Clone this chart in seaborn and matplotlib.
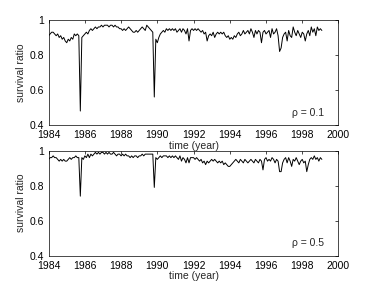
import matplotlib
matplotlib.use("Agg")
import matplotlib.pyplot as plt
import seaborn as sns
import numpy as np
import pandas as pd

# monthly survival ratio, one row per year (1984 .. 1998), then Jan/Feb 1999
ratio_rho01 = [
    0.91, 0.92, 0.93, 0.93, 0.92, 0.91, 0.92, 0.90, 0.91, 0.89, 0.90, 0.88,
    0.87, 0.89, 0.88, 0.90, 0.89, 0.92, 0.91, 0.92, 0.91, 0.48, 0.90, 0.91,
    0.92, 0.93, 0.92, 0.94, 0.95, 0.94, 0.95, 0.96, 0.95, 0.96, 0.96, 0.97,
    0.96, 0.97, 0.97, 0.97, 0.96, 0.97, 0.97, 0.96, 0.97, 0.96, 0.96, 0.95,
    0.95, 0.94, 0.95, 0.94, 0.95, 0.96, 0.95, 0.94, 0.93, 0.93, 0.94, 0.93,
    0.94, 0.95, 0.96, 0.95, 0.94, 0.97, 0.96, 0.95, 0.94, 0.93, 0.56, 0.89,
    0.87, 0.90, 0.92, 0.93, 0.94, 0.93, 0.95, 0.94, 0.95, 0.94, 0.95, 0.94,
    0.95, 0.93, 0.94, 0.95, 0.93, 0.95, 0.94, 0.92, 0.95, 0.88, 0.94, 0.95,
    0.94, 0.95, 0.94, 0.95, 0.94, 0.93, 0.94, 0.92, 0.93, 0.88, 0.91, 0.92,
    0.91, 0.93, 0.90, 0.92, 0.93, 0.92, 0.93, 0.92, 0.93, 0.91, 0.90, 0.91,
    0.89, 0.90, 0.89, 0.91, 0.90, 0.92, 0.93, 0.91, 0.92, 0.94, 0.92, 0.93,
    0.94, 0.92, 0.95, 0.93, 0.90, 0.94, 0.92, 0.94, 0.93, 0.87, 0.93, 0.94,
    0.92, 0.93, 0.94, 0.90, 0.95, 0.92, 0.93, 0.95, 0.91, 0.82, 0.84, 0.90,
    0.92, 0.93, 0.88, 0.94, 0.91, 0.90, 0.96, 0.93, 0.91, 0.94, 0.92, 0.90,
    0.93, 0.92, 0.88, 0.92, 0.94, 0.91, 0.96, 0.93, 0.95, 0.91, 0.96, 0.94,
    0.95, 0.94,
]

ratio_rho05 = [
    0.95, 0.96, 0.96, 0.97, 0.96, 0.96, 0.95, 0.94, 0.95, 0.94, 0.95, 0.94,
    0.94, 0.95, 0.96, 0.95, 0.96, 0.96, 0.97, 0.96, 0.96, 0.74, 0.96, 0.95,
    0.97, 0.96, 0.98, 0.96, 0.98, 0.97, 0.98, 0.99, 0.98, 0.99, 0.98, 0.99,
    0.99, 0.98, 0.99, 0.98, 0.99, 0.98, 0.98, 0.99, 0.98, 0.97, 0.98, 0.98,
    0.97, 0.98, 0.97, 0.98, 0.97, 0.97, 0.96, 0.97, 0.96, 0.97, 0.97, 0.96,
    0.97, 0.97, 0.98, 0.97, 0.98, 0.98, 0.98, 0.98, 0.98, 0.98, 0.79, 0.96,
    0.95, 0.96, 0.97, 0.96, 0.97, 0.97, 0.97, 0.96, 0.97, 0.96, 0.97, 0.96,
    0.97, 0.96, 0.95, 0.97, 0.94, 0.96, 0.95, 0.93, 0.96, 0.93, 0.96, 0.96,
    0.96, 0.95, 0.96, 0.95, 0.94, 0.95, 0.93, 0.94, 0.92, 0.94, 0.93, 0.94,
    0.95, 0.94, 0.95, 0.94, 0.93, 0.94, 0.93, 0.94, 0.92, 0.93, 0.92, 0.91,
    0.91, 0.92, 0.93, 0.94, 0.95, 0.94, 0.93, 0.95, 0.94, 0.93, 0.95, 0.94,
    0.93, 0.94, 0.95, 0.94, 0.93, 0.95, 0.94, 0.93, 0.95, 0.94, 0.89, 0.95,
    0.96, 0.94, 0.95, 0.94, 0.96, 0.95, 0.93, 0.95, 0.94, 0.88, 0.88, 0.93,
    0.95, 0.96, 0.93, 0.96, 0.94, 0.91, 0.95, 0.94, 0.96, 0.94, 0.92, 0.94,
    0.95, 0.93, 0.94, 0.88, 0.92, 0.95, 0.96, 0.95, 0.97, 0.95, 0.96, 0.94,
    0.96, 0.95,
]

rho_labels = ["\u03c1 = 0.1", "\u03c1 = 0.5"]
x_ticks = list(range(1984, 2001, 2))
y_ticks = [0.4, 0.6, 0.8, 1.0]
y_ticklabels = ["0.4", "0.6", "0.8", "1"]

sns.set_style("white")
plt.rcParams["font.family"] = ["Liberation Sans", "DejaVu Sans"]
plt.rcParams["font.size"] = 7.5

fig = plt.figure(figsize=(3.74, 2.81), dpi=100)
# axes boxes in figure fractions: [left, bottom, width, height]
positions = [[0.13, 0.555, 0.775, 0.374], [0.13, 0.090, 0.775, 0.374]]

for pos, vals, lab in zip(positions, [ratio_rho01, ratio_rho05], rho_labels):
    ax = fig.add_axes(pos)
    df = pd.DataFrame({"year": 1984 + np.arange(len(vals)) / 12.0, "ratio": vals})
    sns.lineplot(data=df, x="year", y="ratio", ax=ax, color="black", linewidth=0.7)
    ax.set_xlim(1984, 2000)
    ax.set_ylim(0.4, 1.0)
    ax.set_xticks(x_ticks)
    ax.set_yticks(y_ticks)
    ax.set_yticklabels(y_ticklabels)
    ax.set_xlabel("time (year)", fontsize=7.5, labelpad=0.5)
    ax.set_ylabel("survival ratio", fontsize=7.5, labelpad=2)
    ax.tick_params(direction="in", length=2.5, width=0.5, top=True, right=True,
                   labelsize=7.5, colors="black")
    ax.tick_params(axis="x", pad=3.5)
    ax.tick_params(axis="y", pad=3.5)
    for s in ax.spines.values():
        s.set_linewidth(0.5)
        s.set_color("black")
    ax.text(1999.2, 0.47, lab, ha="right", va="center", fontsize=7.5)

fig.savefig("out.png", dpi=100)
